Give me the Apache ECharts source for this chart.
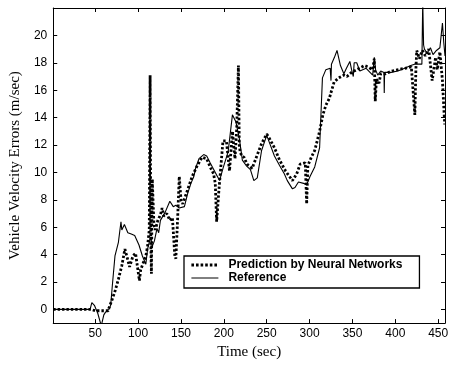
<!DOCTYPE html>
<html>
<head>
<meta charset="utf-8">
<script src="https://cdn.jsdelivr.net/npm/echarts@6/dist/echarts.min.js"></script>
<style>
  html, body { margin: 0; padding: 0; background: #fff; }
  #chart { width: 451px; height: 365px; }
</style>
</head>
<body>
<div id="chart"></div>
<script>
// Tick positions
const xTicks = [50, 100, 150, 200, 250, 300, 350, 400, 450];
const yTicks = [0, 2, 4, 6, 8, 10, 12, 14, 16, 18, 20];

// Reference velocity error (solid)
const refTime = [1, 44, 46, 49, 53, 57, 60, 62, 64, 66, 68, 70, 73, 77, 80, 81, 84, 88, 92, 96, 98,
  101, 105, 109, 111, 114.6, 116.5, 119, 122, 124, 126, 131.6, 137, 141, 144, 148, 154, 158, 161.6,
  165, 167, 171, 176.5, 180, 184, 190, 195, 199, 205, 210, 214, 218, 221.6, 226, 231, 235, 239, 244,
  250, 253.6, 259, 265, 270.5, 274, 280, 283, 287, 293, 296.6, 300.5, 306, 311.7, 315, 319, 324, 325,
  325.5, 329, 332, 336, 340, 343, 347, 349, 351, 352, 355, 358.6, 366, 373.6, 375.5, 377, 379.5, 383,
  386.8, 387.1, 387.5, 395, 403, 411, 418, 422.5, 427, 431, 432, 433, 434, 437, 441, 444, 448, 452,
  455, 456.5, 458];
const refVel = [0, 0, 0.5, 0.3, -0.3, -1.2, -0.4, -0.2, -0.3, 0, 0.3, 1.8, 3.9, 4.9, 6.4, 5.8, 6.2, 5.6,
  5.5, 5.4, 5.5, 4.7, 3.9, 3.3, 4.4, 5.3, 4.6, 5.0, 5.9, 5.6, 6.5, 7.1, 7.9, 7.5, 7.6, 7.4, 7.5, 8.5,
  9.2, 9.7, 10.3, 11.0, 11.3, 11.2, 10.7, 10.0, 9.4, 10.3, 11.5, 14.2, 13.7, 12.5, 10.9, 10.5, 10.2,
  9.4, 9.6, 11.6, 12.7, 12.1, 11.2, 10.5, 9.9, 9.4, 8.8, 8.9, 9.3, 9.2, 9.1, 9.7, 10.4, 11.8, 16.9,
  17.5, 17.6, 16.7, 17.9, 18.4, 18.9, 17.8, 17.2, 17.6, 18.1, 17.5, 17.0, 18.0, 18.0, 17.4, 17.6, 17.1,
  18.4, 17.5, 17.1, 17.4, 17.3, 15.8, 17.3, 17.3, 17.4, 17.6, 17.8, 17.9, 17.9, 17.9, 22.5, 19.3, 19.0,
  18.7, 19.1, 18.6, 18.9, 19.1, 20.9, 19.5, 18.5];

// Neural network prediction (dotted)
const predTime = [1, 45, 50, 55, 60, 65, 66, 69.6, 73.4, 77, 81, 84.6, 87.6, 90, 94, 97, 101.5, 103,
  105, 109, 111, 113, 114, 114.8, 115.5, 116.5, 118.5, 120, 123, 126, 128, 130, 133.4, 137, 140, 142.8,
  144, 146, 148, 150, 152, 157.6, 163, 169, 174.7, 180, 184, 188, 190, 191.6, 194, 197, 199, 203,
  206.6, 210, 213, 215, 217, 218, 219, 221, 223.6, 227, 233, 238.5, 244, 250, 253, 259, 265, 272, 280,
  285, 289, 295, 296.6, 298, 302, 306, 311.7, 315.5, 319, 323, 328.6, 334, 340, 343.6, 349, 355, 364,
  368, 373.6, 375.5, 376.6, 378, 381, 383, 388.7, 396, 403.7, 411, 418.7, 421, 422.8, 424, 425, 428,
  431.6, 435, 439, 443, 447, 449, 452, 455, 457.6];
const predVel = [0, 0, -0.1, -0.1, -0.1, -0.1, 0.1, 0.7, 1.4, 2.2, 3.2, 4.4, 3.7, 3.1, 3.9, 4.1, 2.1,
  2.9, 2.8, 3.9, 4.6, 5.8, 17.1, 5.0, 2.6, 9.5, 6.1, 5.8, 6.5, 6.9, 7.4, 6.8, 7.0, 6.5, 6.7, 3.9, 3.7,
  6.5, 9.7, 8.0, 7.7, 8.7, 9.7, 10.5, 11.1, 11.0, 10.4, 9.9, 9.2, 6.4, 8.5, 10.8, 12.3, 12.3, 10.1,
  13.0, 11.0, 13.2, 17.8, 12.0, 11.5, 11.2, 11.1, 10.6, 10.3, 11.2, 12.1, 12.8, 12.5, 11.8, 10.9, 10.1,
  9.4, 9.9, 10.6, 10.7, 7.7, 10.5, 11.1, 11.6, 13.0, 14.2, 14.9, 15.4, 16.6, 16.9, 17.1, 17.0, 17.3,
  17.5, 17.8, 17.7, 17.5, 18.3, 15.2, 16.8, 16.5, 17.2, 17.2, 17.4, 17.5, 17.6, 17.7, 17.7, 14.2, 17.5,
  18.9, 18.3, 18.9, 18.5, 19.0, 16.7, 18.4, 17.5, 18.8, 16.7, 13.5];

const zip = (xs, ys) => xs.map((x, i) => [x, ys[i]]);

const chart = echarts.init(document.getElementById('chart'), null, { renderer: 'canvas' });

const tickFont = { color: '#000', fontFamily: 'Liberation Sans, Arial, sans-serif', fontSize: 12 };
const titleFont = { color: '#000', fontFamily: 'Liberation Serif, Times New Roman, serif', fontSize: 15 };

function frameAxis(extra) {
  return Object.assign({
    type: 'value',
    axisLine: { show: true, onZero: false, lineStyle: { color: '#000', width: 1 } },
    splitLine: { show: false },
  }, extra);
}

chart.setOption({
  animation: false,
  backgroundColor: '#fff',
  color: ['#000', '#000'],
  grid: { left: 43, right: 3, top: 8, bottom: 37 },
  xAxis: [
    frameAxis({
      min: 1, max: 458, position: 'bottom',
      name: 'Time (sec)', nameLocation: 'middle', nameGap: 19, nameTextStyle: titleFont,
      axisTick: { show: true, inside: true, length: 4, customValues: xTicks, lineStyle: { color: '#000' } },
      axisLabel: Object.assign({ show: true, margin: 5, customValues: xTicks }, tickFont),
    }),
    frameAxis({
      min: 1, max: 458, position: 'top',
      axisTick: { show: true, inside: true, length: 4, customValues: xTicks, lineStyle: { color: '#000' } },
      axisLabel: { show: false },
    }),
  ],
  yAxis: [
    frameAxis({
      min: -1, max: 22, position: 'left',
      name: 'Vehicle Velocity Errors (m/sec)', nameLocation: 'middle', nameGap: 23, nameTextStyle: titleFont,
      axisTick: { show: true, inside: true, length: 4, customValues: yTicks, lineStyle: { color: '#000' } },
      axisLabel: Object.assign({ show: true, margin: 6, customValues: yTicks }, tickFont),
    }),
    frameAxis({
      min: -1, max: 22, position: 'right',
      axisTick: { show: true, inside: true, length: 4, customValues: yTicks, lineStyle: { color: '#000' } },
      axisLabel: { show: false },
    }),
  ],
  legend: {
    left: 184, top: 256,
    orient: 'vertical',
    backgroundColor: '#fff',
    borderColor: '#000', borderWidth: 1.3, borderRadius: 0,
    padding: [3, 17, 4, 6],
    itemWidth: 27, itemHeight: 13, itemGap: 1,
    itemStyle: { opacity: 0 },
    textStyle: { color: '#000', fontFamily: 'Liberation Sans, Arial, sans-serif', fontSize: 12, fontWeight: 'bold', padding: [0, 0, 0, 5] },
    data: [
      { name: 'Prediction by Neural Networks', lineStyle: { width: 2.8, type: [2.6, 2.0], cap: 'butt' } },
      { name: 'Reference', lineStyle: { width: 1 } },
    ],
  },
  series: [
    {
      name: 'Reference', type: 'line', xAxisIndex: 0, yAxisIndex: 0,
      data: zip(refTime, refVel), showSymbol: false, symbol: 'none', clip: true,
      itemStyle: { color: '#000' },
      lineStyle: { color: '#000', width: 1.1 },
      z: 2,
    },
    {
      name: 'Prediction by Neural Networks', type: 'line', xAxisIndex: 0, yAxisIndex: 0,
      data: zip(predTime, predVel), showSymbol: false, symbol: 'none', clip: true,
      itemStyle: { color: '#000' },
      lineStyle: { color: '#000', width: 2.8, type: [2.4, 2.0], cap: 'butt' },
      z: 3,
    },
  ],
});
</script>
</body>
</html>
